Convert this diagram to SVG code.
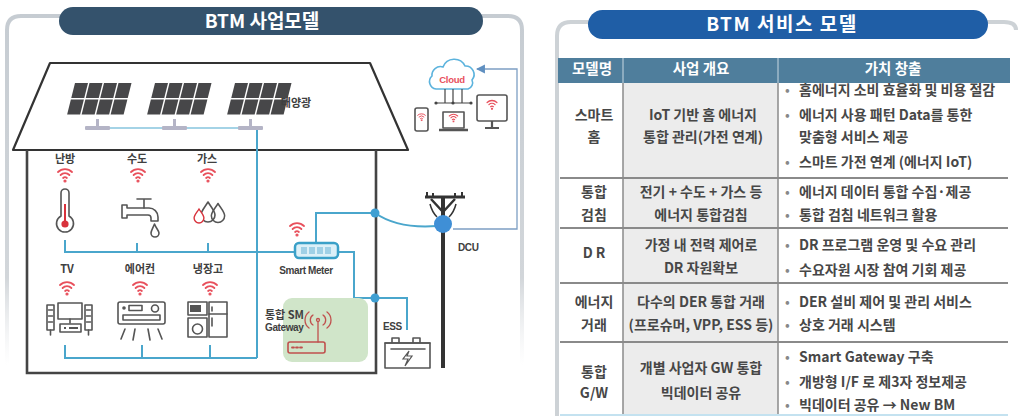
<svg xmlns="http://www.w3.org/2000/svg" width="1018" height="419" viewBox="0 0 1018 419">
  <style>
    .lbl { font-family: "Noto Sans CJK KR", "Noto Sans", sans-serif; font-weight: bold; font-size: 11px; fill: #404040; text-anchor: middle; }
    .lbl.start { text-anchor: start; }
    .en { font-family: "Liberation Sans", "Noto Sans", sans-serif; font-weight: bold; font-size: 10px; fill: #404040; letter-spacing: -0.4px; }
    .bus { stroke: #4aa6cc; stroke-width: 2; fill: none; }
    .thin { stroke: #7d9fc4; stroke-width: 1.3; fill: none; }
    .ico { stroke: #555; stroke-width: 1.6; fill: none; stroke-linejoin: round; stroke-linecap: round; }
    .wifi { stroke: #e8505c; fill: none; stroke-width: 1.8; stroke-linecap: round; }
    .dot { fill: #3f9fd2; }
    .title { font-family: "Noto Sans CJK KR", "Noto Sans", sans-serif; font-weight: bold; font-size: 19px; fill: #fff; text-anchor: middle; }
    .cell { font-family: "Noto Sans CJK KR", "Noto Sans", sans-serif; font-size: 14px; fill: #474747; font-weight: bold; }
    .c { text-anchor: middle; }
    .hd { fill: #fff; font-weight: bold; font-size: 14.5px; text-anchor: middle; }
    .bul { fill: #888; font-weight: normal; }
    .rule { stroke: #8a8a8a; stroke-width: 2; }
    .vrule { stroke: #8a8a8a; stroke-width: 1.5; }
  </style>
  <defs>
    <linearGradient id="fadeL" gradientUnits="userSpaceOnUse" x1="0" y1="16" x2="0" y2="365">
      <stop offset="0" stop-color="#c6ccd2"/>
      <stop offset="0.75" stop-color="#d2d6da"/>
      <stop offset="1" stop-color="#e8eaec" stop-opacity="0"/>
    </linearGradient>
    <g id="wifi">
      <path d="M-7,-5 A10,10 0 0 1 7,-5"/>
      <path d="M-4.4,-2 A6.3,6.3 0 0 1 4.4,-2"/>
      <path d="M-1.9,1 A2.8,2.8 0 0 1 1.9,1"/>
      <circle cx="0" cy="4" r="0.7"/>
    </g>
    <g id="panel">
      <rect x="0" y="0" width="13" height="15"/>
      <rect x="14.5" y="0" width="13" height="15"/>
      <rect x="29" y="0" width="13" height="15"/>
      <rect x="43.5" y="0" width="13" height="15"/>
      <rect x="0" y="16.5" width="13" height="15"/>
      <rect x="14.5" y="16.5" width="13" height="15"/>
      <rect x="29" y="16.5" width="13" height="15"/>
      <rect x="43.5" y="16.5" width="13" height="15"/>
    </g>
    <path id="drop" d="M0,-10 C3,-5 7,-1 7,3 A7,7 0 0 1 -7,3 C-7,-1 -3,-5 0,-10 Z"/>
    <marker id="arr" viewBox="0 0 8 8" refX="7" refY="4" markerWidth="7" markerHeight="7" orient="auto">
      <path d="M0,0 L8,4 L0,8 Z" fill="#5f8fc0"/>
    </marker>
  </defs>

  <rect width="1018" height="419" fill="#fff"/>

  <!-- panel frames -->
  <path d="M7,365 V30 Q7,16 21,16 H508 Q522,16 522,30 V365" fill="none" stroke="url(#fadeL)" stroke-width="4"/>
  <path d="M557,416 V36 Q557,22 571,22 H1004 Q1016,22 1016,30" fill="none" stroke="#cdd2d6" stroke-width="4"/>

  <!-- titles -->
  <g id="title-left">
    <rect x="59" y="7" width="424" height="28" rx="14" fill="#34526c"/>
    <text class="title" x="262" y="28">BTM 사업모델</text>
  </g>
  <g id="title-right">
    <rect x="588" y="10" width="400" height="29" rx="14.5" fill="#1f5ea6"/>
    <text class="title" x="782" y="31" letter-spacing="1.5">BTM 서비스 모델</text>
  </g>

  <!-- ===== left: house scene ===== -->
  <g id="house">
    <path d="M13,150 L50,63 L370,63 L408,150 Z" fill="none" stroke="#333" stroke-width="2.2" stroke-linejoin="round"/>
    <path d="M27,150 V373 H376 V150" fill="none" stroke="#444" stroke-width="2.6"/>
  </g>

  <!-- connectors -->
  <g id="connectors">
    <!-- panel stands link -->
    <path d="M85,128 H263" stroke="#86c4de" stroke-width="1.5" fill="none"/>
    <path class="bus" d="M257,128 V358"/>
    <!-- upper appliance bus -->
    <path class="bus" d="M65,240 V252 H295"/>
    <path class="bus" d="M137,243 V252"/>
    <path class="bus" d="M208,243 V252"/>
    <!-- lower appliance bus -->
    <path class="bus" d="M65,345 V358 H257"/>
    <path class="bus" d="M142,345 V358"/>
    <path class="bus" d="M210,345 V358"/>
    <!-- meter to grid -->
    <path class="bus" d="M316,243 V213 H375"/>
    <path class="bus" d="M375,213 Q398,229 437,226"/>
    <!-- meter to gateway / ESS -->
    <path class="bus" d="M338,252 H354 V298 H407 V330"/>
    <circle class="dot" cx="375" cy="213" r="4.5"/>
    <circle class="dot" cx="375" cy="298" r="4.5"/>
    <!-- DCU to cloud -->
    <path class="thin" d="M453,229 H517 V69 H477" marker-end="url(#arr)"/>
  </g>

  <g id="solar">
    <g fill="#474749">
      <use href="#panel" transform="translate(75,83) skewX(-14)"/>
      <use href="#panel" transform="translate(155,83) skewX(-14)"/>
      <use href="#panel" transform="translate(235,83) skewX(-14)"/>
    </g>
    <g fill="#b4b4c6">
      <rect x="96" y="119" width="3" height="8"/>
      <rect x="173" y="119" width="3" height="8"/>
      <rect x="249" y="119" width="3" height="8"/>
      <rect x="85" y="126" width="25" height="4" rx="1"/>
      <rect x="162" y="126" width="25" height="4" rx="1"/>
      <rect x="238" y="126" width="25" height="4" rx="1"/>
    </g>
    <text class="lbl" x="296" y="107" font-size="8.5">태양광</text>
  </g>

  <g id="heating">
    <text class="lbl" x="65" y="163">난방</text>
    <use href="#wifi" class="wifi" x="65" y="177"/>
    <path class="ico" d="M61,193 A4,4 0 0 1 69,193 V216 A8.5,8.5 0 1 1 61,216 Z" fill="#fff"/>
    <line x1="65" y1="204" x2="65" y2="222" stroke="#d8323c" stroke-width="2"/>
    <circle cx="65" cy="224" r="3.6" fill="#d8323c"/>
  </g>

  <g id="water">
    <text class="lbl" x="137" y="163">수도</text>
    <use href="#wifi" class="wifi" x="138" y="177"/>
    <path class="ico" d="M122,205 H127 V208 H149 A9,9 0 0 1 158,217 V221 H151 V218 A3,3 0 0 0 148,215 H127 V218 H122 Z"/>
    <path class="ico" d="M144,208 V200 M137,199 H151"/>
    <path class="ico" d="M154.5,224 C156,228 159,231 159,233 A4,4 0 0 1 151,233 C151,231 153,228 154.5,224 Z"/>
  </g>

  <g id="gas">
    <text class="lbl" x="207" y="163">가스</text>
    <use href="#wifi" class="wifi" x="208" y="177"/>
    <use href="#drop" transform="translate(218,213) scale(0.95)" class="ico" fill="#fff"/>
    <use href="#drop" transform="translate(208,212)" class="ico" fill="#fff"/>
    <use href="#drop" transform="translate(199,216) scale(0.7)" fill="#fff" stroke="#d8323c" stroke-width="2"/>
  </g>

  <g id="tv">
    <text class="lbl" x="67" y="273">TV</text>
    <use href="#wifi" class="wifi" x="67" y="290"/>
    <rect class="ico" x="47" y="305" width="7" height="25"/>
    <rect class="ico" x="85" y="305" width="7" height="25"/>
    <path class="ico" d="M48.5,310 h4 M48.5,316 h4 M48.5,322 h4 M86.5,310 h4 M86.5,316 h4 M86.5,322 h4"/>
    <path class="ico" d="M50.5,330 V335 M88.5,330 V335"/>
    <rect class="ico" x="58" y="303" width="24" height="16"/>
    <path class="ico" d="M70,319 V323"/>
    <rect class="ico" x="60" y="324" width="21" height="8"/>
    <path d="M64,328 h2 M69,328 h9" stroke="#555" stroke-width="2"/>
  </g>

  <g id="aircon">
    <text class="lbl" x="140" y="273">에어컨</text>
    <use href="#wifi" class="wifi" x="140" y="290"/>
    <rect class="ico" x="118" y="302" width="47" height="22" rx="2"/>
    <circle cx="124" cy="308" r="1.8" fill="#555"/>
    <rect class="ico" x="129" y="305.5" width="13" height="5"/>
    <circle class="ico" cx="155" cy="308.5" r="3.5"/>
    <rect class="ico" x="123" y="315" width="37" height="5"/>
    <path class="ico" d="M125,329 L121,339 M135,329 L133,340 M148,329 L150,340 M158,329 L162,339"/>
  </g>

  <g id="fridge">
    <text class="lbl" x="208" y="273">냉장고</text>
    <use href="#wifi" class="wifi" x="210" y="290"/>
    <rect class="ico" x="188" y="302" width="19" height="13"/>
    <rect x="190" y="305" width="11" height="7" fill="#555"/>
    <rect class="ico" x="188" y="318" width="19" height="19"/>
    <circle class="ico" cx="197.5" cy="329" r="5"/>
    <rect class="ico" x="209" y="302" width="18" height="35"/>
    <path class="ico" d="M209,314 H227 M212,307 V311 M212,318 V326"/>
  </g>

  <g id="smart-meter">
    <use href="#wifi" class="wifi" x="297" y="231"/>
    <rect x="295" y="243" width="43" height="15" rx="4" fill="#dcf0f8" stroke="#3aa0c8" stroke-width="2.5"/>
    <g fill="#9fd0e6">
      <rect x="301" y="247" width="6" height="7"/>
      <rect x="309" y="247" width="6" height="7"/>
      <rect x="317" y="247" width="6" height="7"/>
      <rect x="325" y="247" width="6" height="7"/>
    </g>
    <text class="en" x="306" y="274" text-anchor="middle" font-weight="normal" font-size="10.5">Smart Meter</text>
  </g>

  <g id="gateway">
    <rect x="283" y="298" width="85" height="64" rx="9" fill="#d0e5c9"/>
    <text class="lbl start" x="265" y="319" font-size="10.5">통합 SM</text>
    <text class="en" x="265" y="331">Gateway</text>
    <g fill="none" stroke="#c0504d" stroke-width="1.3" stroke-linecap="round">
      <path d="M313,315 A6,6 0 0 0 313,325 M323,315 A6,6 0 0 1 323,325"/>
      <path d="M309,312 A10,10 0 0 0 309,328 M327,312 A10,10 0 0 1 327,328"/>
      <circle cx="318" cy="320" r="1.5"/>
      <path d="M318,322 V342"/>
      <rect x="288" y="342" width="37" height="11" rx="2" stroke-width="1.6"/>
      <path d="M292,347.5 h2 M296,347.5 h2 M300,347.5 h2" stroke-width="1.8"/>
    </g>
  </g>

  <g id="ess">
    <text class="en" x="383" y="330" font-weight="normal">ESS</text>
    <rect class="ico" x="385" y="343" width="45" height="25" stroke-width="1.8"/>
    <path class="ico" d="M385,343 H430 M392,343 V338 H399 V343 M413,343 V338 H420 V343 M391,349 H425"/>
    <path d="M409,351 L403,359 H408 L405,366 L412,356 H407 Z" fill="none" stroke="#555" stroke-width="1.2"/>
  </g>

  <g id="dcu">
    <line x1="443" y1="198" x2="443" y2="368" stroke="#333" stroke-width="4"/>
    <path d="M425,197 H465" stroke="#333" stroke-width="3"/>
    <path d="M427,197 V192 M433,197 V193 M455,197 V193 M462,197 V192" stroke="#333" stroke-width="2"/>
    <path d="M431,199 L443,212 L455,199" fill="none" stroke="#333" stroke-width="2.5"/>
    <path d="M430,204 Q432,212 437,217 M456,204 Q454,212 449,217" fill="none" stroke="#333" stroke-width="1.5"/>
    <circle cx="443" cy="224" r="9" fill="#3f8fd6"/>
    <text class="en" x="458" y="251" font-size="10.5">DCU</text>
  </g>

  <g id="cloud">
    <path d="M436,89 A7.5,7.5 0 0 1 432,76 A8.5,8.5 0 0 1 443,67 A12,12 0 0 1 465,66 A8.5,8.5 0 0 1 472,80 A6.5,6.5 0 0 1 468,89 Z" fill="#fff" stroke="#5cb3dd" stroke-width="1.6"/>
    <text x="452" y="83" font-family="Liberation Sans, sans-serif" font-weight="bold" font-size="9.5" fill="#e8505c" text-anchor="middle" letter-spacing="-0.3">Cloud</text>
    <path d="M445,89 V103 M453,89 V103 M462,89 V103 M436,103 H472" stroke="#444" stroke-width="1.2" fill="none"/>
    <circle cx="436" cy="103" r="1.6" fill="#444"/>
    <circle cx="453" cy="103" r="1.6" fill="#444"/>
    <circle cx="471" cy="103" r="1.6" fill="#444"/>
  </g>

  <g id="devices">
    <rect class="ico" x="415" y="108" width="13" height="23" rx="2" stroke="#666" stroke-width="2"/>
    <use href="#wifi" class="wifi" transform="translate(421.5,118) scale(0.55)" stroke="#ef8aa0" stroke-width="2.4"/>
    <rect class="ico" x="443" y="112" width="21" height="16" stroke="#666" stroke-width="2"/>
    <path d="M439,130 H468" stroke="#555" stroke-width="2.5"/>
    <use href="#wifi" class="wifi" transform="translate(453.5,119) scale(0.6)" stroke="#ef8aa0" stroke-width="2.4"/>
    <rect class="ico" x="477" y="95" width="30" height="26" rx="2" stroke="#666" stroke-width="2"/>
    <path d="M492,121 V127 M485,128 H499" stroke="#555" stroke-width="2.2"/>
    <use href="#wifi" class="wifi" transform="translate(492,106) scale(0.7)" stroke="#ef8aa0" stroke-width="2.4"/>
  </g>

  <!-- ===== right: service model table ===== -->
  <g id="table">
    <rect x="558" y="58" width="452" height="25" fill="#4f7e9c"/>
    <path d="M623,58 V83 M778,58 V83" stroke="#c9d8e2" stroke-width="1"/>
    <rect x="623" y="83" width="155" height="331" fill="#ececec"/>
    <path class="vrule" d="M623,83 V414 M778,83 V414"/>
    <path class="rule" d="M560,178 H1008 M560,228 H1008 M560,283 H1008 M560,342 H1008"/>
    <path d="M560,415 H1008" stroke="#c4e2f0" stroke-width="2"/>

    <g class="cell hd">
      <text x="592" y="74">모델명</text>
      <text x="701" y="74">사업 개요</text>
      <text x="893" y="74">가치 창출</text>
    </g>
  </g>

  <g id="row-smarthome" class="cell">
    <text class="c" x="594" y="120">스마트</text>
    <text class="c" x="594" y="142">홈</text>
    <text class="c" x="703" y="120">IoT 기반 홈 에너지</text>
    <text class="c" x="703" y="142">통합 관리(가전 연계)</text>
    <text class="bul" x="785" y="95">•</text><text x="799" y="95">홈에너지 소비 효율화 및 비용 절감</text>
    <text class="bul" x="785" y="120">•</text><text x="799" y="120">에너지 사용 패턴 Data를 통한</text>
    <text x="799" y="142">맞춤형 서비스 제공</text>
    <text class="bul" x="785" y="167">•</text><text x="799" y="167">스마트 가전 연계 (에너지 IoT)</text>
  </g>

  <g id="row-metering" class="cell">
    <text class="c" x="594" y="197">통합</text>
    <text class="c" x="594" y="220">검침</text>
    <text class="c" x="701" y="197">전기 + 수도 + 가스 등</text>
    <text class="c" x="701" y="220">에너지 통합검침</text>
    <text class="bul" x="785" y="197">•</text><text x="799" y="197">에너지 데이터 통합 수집·제공</text>
    <text class="bul" x="785" y="220">•</text><text x="799" y="220">통합 검침 네트워크 활용</text>
  </g>

  <g id="row-dr" class="cell">
    <text class="c" x="594" y="258">D R</text>
    <text class="c" x="701" y="250">가정 내 전력 제어로</text>
    <text class="c" x="701" y="273">DR 자원확보</text>
    <text class="bul" x="785" y="250">•</text><text x="799" y="250">DR 프로그램 운영 및 수요 관리</text>
    <text class="bul" x="785" y="275">•</text><text x="799" y="275">수요자원 시장 참여 기회 제공</text>
  </g>

  <g id="row-trading" class="cell">
    <text class="c" x="594" y="307">에너지</text>
    <text class="c" x="594" y="330">거래</text>
    <text class="c" x="701" y="307">다수의 DER 통합 거래</text>
    <text class="c" x="701" y="330">(프로슈머, VPP, ESS 등)</text>
    <text class="bul" x="785" y="307">•</text><text x="799" y="307">DER 설비 제어 및 관리 서비스</text>
    <text class="bul" x="785" y="330">•</text><text x="799" y="330">상호 거래 시스템</text>
  </g>

  <g id="row-gateway" class="cell">
    <text class="c" x="594" y="377">통합</text>
    <text class="c" x="594" y="398">G/W</text>
    <text class="c" x="701" y="373">개별 사업자 GW 통합</text>
    <text class="c" x="701" y="398">빅데이터 공유</text>
    <text class="bul" x="785" y="362">•</text><text x="799" y="362">Smart Gateway 구축</text>
    <text class="bul" x="785" y="387">•</text><text x="799" y="387">개방형 I/F 로 제3자 정보제공</text>
    <text class="bul" x="785" y="410">•</text><text x="799" y="410">빅데이터 공유 → New BM</text>
  </g>
</svg>
